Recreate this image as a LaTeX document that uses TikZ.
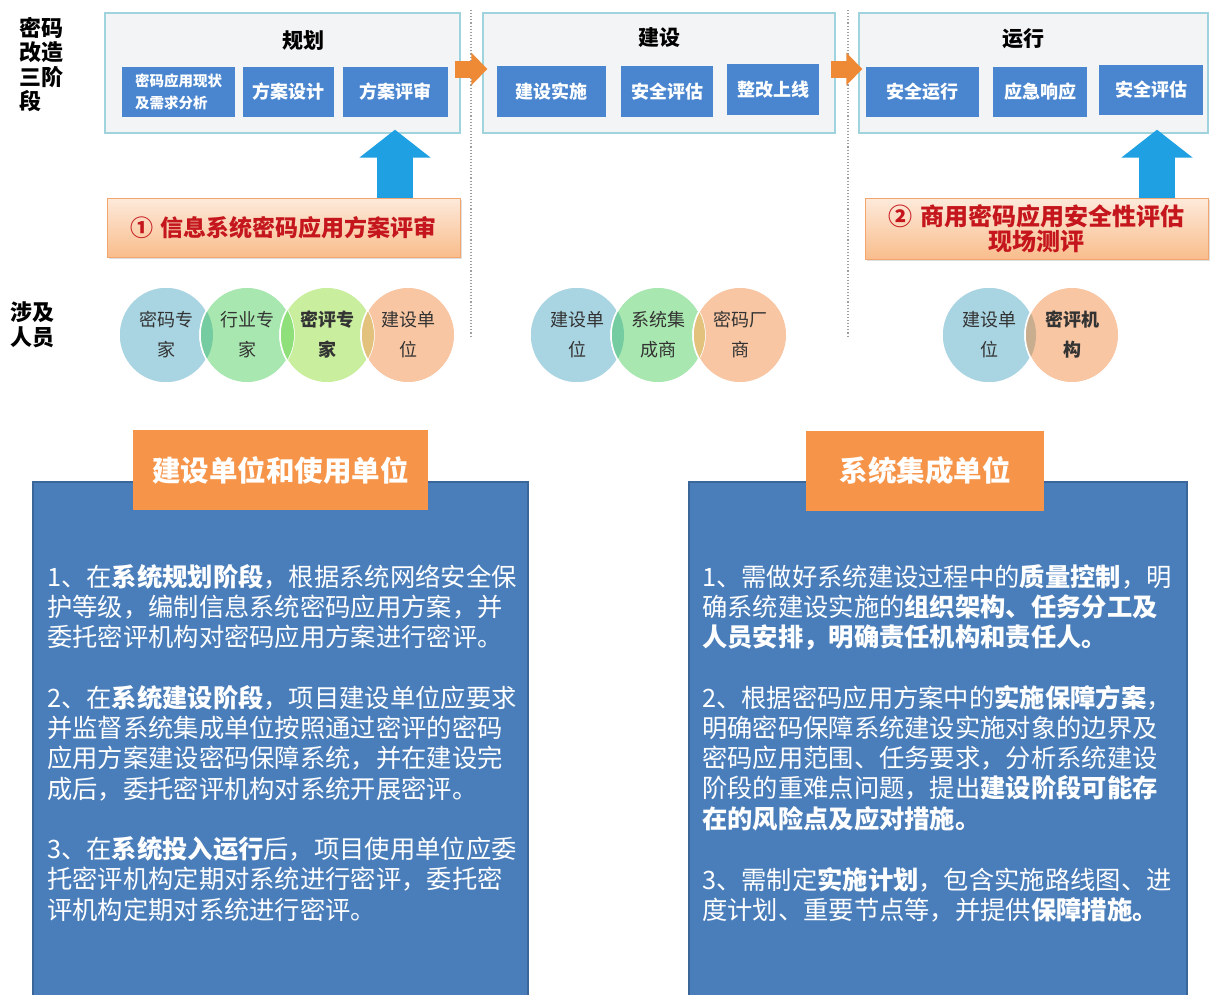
\documentclass[tikz,border=0pt]{standalone}
\usepackage{fontspec}
\setmainfont{Noto Sans CJK SC}
\usetikzlibrary{shapes.geometric,arrows.meta,shadows}
\definecolor{stagefill}{HTML}{F3F4F5}
\definecolor{stageline}{HTML}{9FD4DE}
\definecolor{subblue}{HTML}{4A86CF}
\definecolor{arrorange}{HTML}{EE8A35}
\definecolor{upblue}{HTML}{1EA0E2}
\definecolor{calltop}{HTML}{FDEADB}
\definecolor{callbot}{HTML}{F9BD8C}
\definecolor{callline}{HTML}{F2A56E}
\definecolor{callred}{HTML}{C4161C}
\definecolor{boxblue}{HTML}{4A7EBB}
\definecolor{boxline}{HTML}{3A6699}
\definecolor{headorange}{HTML}{F6954A}
\definecolor{cblue}{HTML}{A9D4E2}
\definecolor{cgreen}{HTML}{A9E7B0}
\definecolor{clgreen}{HTML}{C9EE9E}
\definecolor{corange}{HTML}{F8C6A3}
\definecolor{lensbg}{HTML}{74CCA0}
\definecolor{lensgg}{HTML}{8FE07A}
\definecolor{lensgo}{HTML}{E2C27C}
\definecolor{lensbo}{HTML}{C8AE8E}
\definecolor{ptextcol}{HTML}{333333}
\tikzset{
  stagebox/.style={draw=stageline, line width=1.4pt, fill=stagefill, minimum width=#1, minimum height=120pt, inner sep=0pt},
  stagetitle/.style={font=\fontsize{21}{24}\selectfont\bfseries, text=black, inner sep=0pt},
  subbox/.style={fill=subblue, text=white, minimum width=#1, minimum height=50pt, inner sep=0pt, font=\fontsize{18}{20}\selectfont\bfseries},
  flowarrow/.style={draw=arrorange, line width=17pt, -{Triangle[length=16pt,width=32pt]}, arrorange},
  uparrow/.style={draw=upblue, line width=36pt, -{Triangle[length=28pt,width=70pt]}, upblue},
  callbox/.style={top color=calltop, bottom color=callbot, draw=callline, line width=0.8pt, inner sep=0pt, text=callred, font=\fontsize{23}{25}\selectfont\bfseries, align=center, drop shadow={shadow xshift=1.5pt, shadow yshift=-1.5pt, opacity=0.25}},
  sidelabel/.style={font=\fontsize{22}{24.5}\selectfont\bfseries, text=black, align=left, inner sep=0pt},
  sep/.style={draw=gray!75, dotted, line width=1.1pt},
  person/.style={ellipse, minimum width=94pt, minimum height=96pt, inner sep=0pt, fill=#1, draw=white, line width=1.5pt},
  ptext/.style={font=\fontsize{18}{30}\selectfont, text=ptextcol, align=center, inner sep=0pt},
  ptextb/.style={ptext, font=\fontsize{18}{30}\selectfont\bfseries},
  bigbox/.style={fill=boxblue, draw=boxline, line width=1.2pt, minimum height=530pt, inner sep=0pt},
  header/.style={fill=headorange, text=white, inner sep=0pt, minimum height=80pt, font=\fontsize{28.5}{30}\selectfont\bfseries},
  para/.style={anchor=base west, align=left, text=white, inner sep=0pt, font=\fontsize{25.3}{30.3}\selectfont}
}
\newcommand{\lens}[3]{%
  \begin{scope}
    \clip (#1.center) ellipse [x radius=47pt, y radius=48pt];
    \fill[#3] (#2.center) ellipse [x radius=47pt, y radius=48pt];
  \end{scope}
  \draw[white, line width=1.5pt] (#2.center) ellipse [x radius=47pt, y radius=48pt];}
\begin{document}
\begin{tikzpicture}[x=1pt,y=-1pt]
\useasboundingbox (0,0) rectangle (1210,994);
\fill[white] (0,0) rectangle (1210,994);

% separators
\coordinate (d1t) at (471,10); \coordinate (d1b) at (471,336);
\coordinate (d2t) at (848,10); \coordinate (d2b) at (848,336);
\draw[sep] (d1t) -- (d1b);
\draw[sep] (d2t) -- (d2b);

% left labels
\node[sidelabel, anchor=north west] (lab1) at (19,17) {密码\\改造\\三阶\\段};
\node[sidelabel, anchor=north west] (lab2) at (10,302) {涉及\\人员};

% stage boxes
\node[stagebox=355pt] (s1) at (282.5,73) {};
\node[stagebox=352pt] (s2) at (659,73) {};
\node[stagebox=349pt] (s3) at (1033.5,73) {};
\node[stagetitle] (t1) at (303,41) {规划};
\node[stagetitle] (t2) at (659,38) {建设};
\node[stagetitle] (t3) at (1023,39) {运行};

\node[subbox=113pt, font=\fontsize{14.5}{22}\selectfont\bfseries, align=left] (a1) at (178.5,92) {密码应用现状\\及需求分析};
\node[subbox=91pt] (a2) at (288.5,92) {方案设计};
\node[subbox=105pt] (a3) at (395.5,92) {方案评审};
\node[subbox=109pt, minimum height=51pt] (b1) at (551.5,91.5) {建设实施};
\node[subbox=92pt, minimum height=51pt] (b2) at (667,91.5) {安全评估};
\node[subbox=92pt, minimum height=51pt] (b3) at (773,89.5) {整改上线};
\node[subbox=113pt] (c1) at (922.5,92) {安全运行};
\node[subbox=94pt] (c2) at (1040,92) {应急响应};
\node[subbox=104pt] (c3) at (1151,90) {安全评估};

% flow arrows between stages
\draw[flowarrow] ([xshift=-6pt,yshift=4pt]s1.east) -- ([xshift=5pt,yshift=4pt]s2.west);
\draw[flowarrow] ([xshift=-5pt,yshift=4pt]s2.east) -- ([xshift=4pt,yshift=4pt]s3.west);

% callouts
\node[callbox, minimum width=353pt, minimum height=59pt] (k1) at (283.5,227.5) {①\hspace{8pt}信息系统密码应用方案评审};
\node[callbox, minimum width=343pt, minimum height=61pt, font=\fontsize{24}{25}\selectfont\bfseries] (k2) at (1036.5,228.5) {②\hspace{8pt}商用密码应用安全性评估\\现场测评};

\draw[uparrow] (k1.north -| 395,0) -- ([yshift=4pt]s1.south -| 395,0);
\draw[uparrow] (k2.north -| 1157,0) -- ([yshift=4pt]s3.south -| 1157,0);

% persons group 1
\node[person=cblue] (p1) at (166,335) {};
\node[person=cgreen] (p2) at (247,335) {};
\node[person=clgreen] (p3) at (327,335) {};
\node[person=corange] (p4) at (408,335) {};
% group 2
\node[person=cblue] (q1) at (577,335) {};
\node[person=cgreen] (q2) at (658,335) {};
\node[person=corange] (q3) at (740,335) {};
% group 3
\node[person=cblue] (r1) at (989,335) {};
\node[person=corange] (r2) at (1072,335) {};

% lenses
\lens{p1}{p2}{lensbg}
\lens{p2}{p3}{lensgg}
\lens{p3}{p4}{lensgo}
\lens{q1}{q2}{lensbg}
\lens{q2}{q3}{lensgo}
\lens{r1}{r2}{lensbo}

\node[ptext] at (p1) {密码专\\家};
\node[ptext] at (p2) {行业专\\家};
\node[ptextb] at (p3) {密评专\\家};
\node[ptext] at (p4) {建设单\\位};
\node[ptext] at (q1) {建设单\\位};
\node[ptext] at (q2) {系统集\\成商};
\node[ptext] at (q3) {密码厂\\商};
\node[ptext] at (r1) {建设单\\位};
\node[ptextb] at (r2) {密评机\\构};

% lower boxes
\node[bigbox, minimum width=495pt] (L) at (280.5,747) {};
\node[header, minimum width=295pt] (LH) at (280.5,470) {建设单位和使用单位};
\node[bigbox, minimum width=498pt] (R) at (938,747) {};
\node[header, minimum width=238pt] (RH) at (925,470.5) {系统集成单位};

% (anchor base = baseline of the last line)
\node[para] (l1) at (47,646.6) {1、在\textbf{系统规划阶段}，根据系统网络安全保\\护等级，编制信息系统密码应用方案，并\\委托密评机构对密码应用方案进行密评。};
\node[para] (l2) at (47,798) {2、在\textbf{系统建设阶段}，项目建设单位应要求\\并监督系统集成单位按照通过密评的密码\\应用方案建设密码保障系统，并在建设完\\成后，委托密评机构对系统开展密评。};
\node[para] (l3) at (47,919) {3、在\textbf{系统投入运行}后，项目使用单位应委\\托密评机构定期对系统进行密评，委托密\\评机构定期对系统进行密评。};

\node[para] (r1t) at (702,646.6) {1、需做好系统建设过程中的\textbf{质量控制}，明\\确系统建设实施的\textbf{组织架构、任务分工及}\\\textbf{人员安排，明确责任机构和责任人。}};
\node[para] (r2t) at (702,828.2) {2、根据密码应用方案中的\textbf{实施保障方案}，\\明确密码保障系统建设实施对象的边界及\\密码应用范围、任务要求，分析系统建设\\阶段的重难点问题，提出\textbf{建设阶段可能存}\\\textbf{在的风险点及应对措施。}};
\node[para] (r3t) at (702,919.3) {3、需制定\textbf{实施计划}，包含实施路线图、进\\度计划、重要节点等，并提供\textbf{保障措施。}};
\end{tikzpicture}
\end{document}
